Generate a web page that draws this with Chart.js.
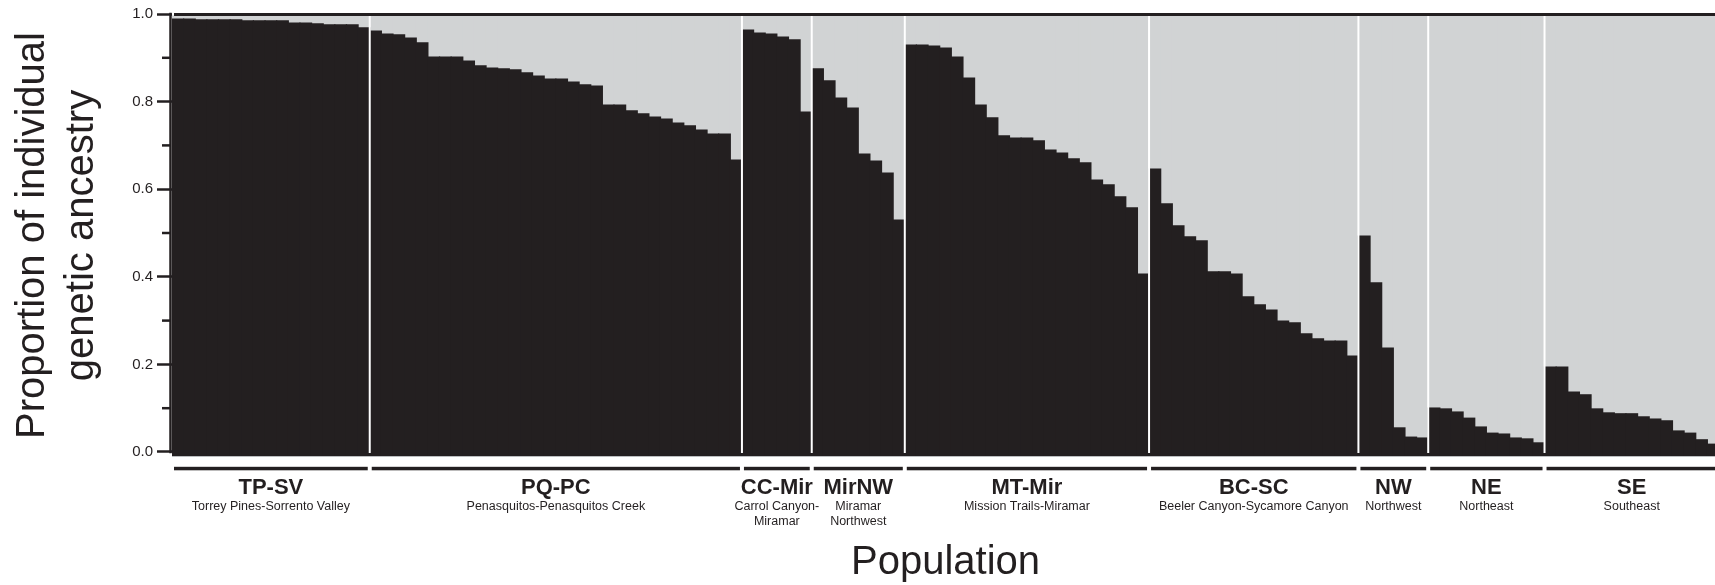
<!DOCTYPE html>
<html><head><meta charset="utf-8">
<script src="https://cdn.jsdelivr.net/npm/chart.js@4.4.1/dist/chart.umd.min.js"></script>
<style>
html,body{margin:0;padding:0;background:#fff;overflow:hidden;width:1715px;height:585px}
#wrap{position:relative;width:1730px;height:585px}
</style></head><body>
<div id="wrap"><canvas id="c"></canvas></div>
<script>
// ---- data ----
const groupCodes = ['TP-SV','PQ-PC','CC-Mir','MirNW','MT-Mir','BC-SC','NW','NE','SE'];
const groupNames = [
  ['Torrey Pines-Sorrento Valley'],
  ['Penasquitos-Penasquitos Creek'],
  ['Carrol Canyon-','Miramar'],
  ['Miramar','Northwest'],
  ['Mission Trails-Miramar'],
  ['Beeler Canyon-Sycamore Canyon'],
  ['Northwest'],
  ['Northeast'],
  ['Southeast']
];
const tpsv  = [0.993,0.993,0.991,0.991,0.991,0.991,0.989,0.989,0.989,0.989,0.984,0.984,0.982,0.980,0.980,0.980,0.973];
const pqpc  = [0.966,0.959,0.957,0.950,0.939,0.907,0.907,0.907,0.898,0.887,0.882,0.880,0.878,0.871,0.864,0.857,0.857,0.850,0.844,0.841,0.798,0.798,0.785,0.778,0.771,0.766,0.757,0.751,0.741,0.732,0.732,0.673];
const ccmir = [0.968,0.961,0.959,0.952,0.946,0.782];
const mirnw = [0.880,0.853,0.814,0.791,0.687,0.671,0.644,0.537];
const mtmir = [0.934,0.934,0.932,0.927,0.907,0.859,0.798,0.769,0.728,0.723,0.723,0.717,0.696,0.689,0.676,0.667,0.628,0.617,0.590,0.565,0.415];
const bcsc  = [0.653,0.574,0.524,0.499,0.490,0.420,0.420,0.415,0.363,0.345,0.333,0.308,0.304,0.279,0.268,0.263,0.263,0.229];
const nw    = [0.501,0.395,0.247,0.066,0.045,0.043];
const ne    = [0.111,0.109,0.102,0.088,0.068,0.054,0.052,0.043,0.041,0.032];
const se    = [0.204,0.204,0.147,0.141,0.109,0.100,0.098,0.098,0.091,0.086,0.082,0.059,0.054,0.039,0.029];
const yTickValues = [0, 0.2, 0.4, 0.6, 0.8, 1.0];
const yMinorTickValues = [0.1, 0.3, 0.5, 0.7, 0.9];

// ---- derived ----
const groupValues = [tpsv, pqpc, ccmir, mirnw, mtmir, bcsc, nw, ne, se];
const ancestry = groupValues.flat();
const remainder = ancestry.map(v => +(1 - v).toFixed(3));
const labels = [];
groupValues.forEach((g, gi) => g.forEach((_, i) => labels.push(groupCodes[gi] + ' ' + (i + 1))));
const groupStarts = [];
{ let s = 0; groupValues.forEach(g => { groupStarts.push(s); s += g.length; }); }

const FONT = "'Liberation Sans', Arial, Helvetica, sans-serif";
const INK = '#231f20';
Chart.defaults.font.family = FONT;
Chart.defaults.color = INK;

const decor = {
  id: 'decor',
  afterDraw(chart) {
    const { ctx, chartArea: a, scales: { x, y, yt } } = chart;
    const n = labels.length;
    const bw = x.getPixelForValue(1) - x.getPixelForValue(0);
    const edge = i => i < n ? x.getPixelForValue(i) - bw / 2 : x.getPixelForValue(n - 1) + bw / 2;
    const yTop1 = y.getPixelForValue(1);
    const t1 = yt.getPixelForValue(1), t0 = yt.getPixelForValue(0);
    ctx.save();
    // group separators
    ctx.strokeStyle = '#ffffff'; ctx.lineWidth = 2;
    groupStarts.forEach((s, gi) => {
      if (gi === 0) return;
      const xb = edge(s);
      ctx.beginPath(); ctx.moveTo(xb, yTop1); ctx.lineTo(xb, t0 + 1); ctx.stroke();
    });
    // top frame line
    ctx.fillStyle = INK;
    ctx.fillRect(a.left + 2, t1 - 1, a.right - a.left, 3);
    // bottom thin line
    ctx.fillStyle = '#bcbec0';
    ctx.fillRect(a.left, a.bottom - 1, a.right - a.left, 1);
    // y spine
    ctx.strokeStyle = INK; ctx.lineWidth = 2.5;
    ctx.beginPath(); ctx.moveTo(a.left - 1.5, t1 - 1.25); ctx.lineTo(a.left - 1.5, t0 + 1.25); ctx.stroke();
    // minor ticks
    yMinorTickValues.forEach(v => {
      const py = yt.getPixelForValue(v);
      ctx.beginPath(); ctx.moveTo(a.left - 10, py); ctx.lineTo(a.left - 1.5, py); ctx.stroke();
    });
    // group underlines and labels
    ctx.fillStyle = INK;
    ctx.textAlign = 'center'; ctx.textBaseline = 'alphabetic';
    groupValues.forEach((g, gi) => {
      const x0 = edge(groupStarts[gi]), x1 = edge(groupStarts[gi] + g.length);
      ctx.fillRect(x0 + 2, a.bottom + 9.8, x1 - x0 - 4, 3.5);
      const cx = (x0 + x1) / 2;
      ctx.font = 'bold 22px ' + FONT;
      ctx.fillText(groupCodes[gi], cx, a.bottom + 37);
      ctx.font = '12.5px ' + FONT;
      groupNames[gi].forEach((line, li) => ctx.fillText(line, cx, a.bottom + 52.5 + li * 15));
    });
    ctx.restore();
  }
};

new Chart(document.getElementById('c'), {
  type: 'bar',
  data: {
    labels,
    datasets: [
      { label: 'Ancestry cluster 1', data: ancestry, backgroundColor: INK, yAxisID: 'y', stack: 's' },
      { label: 'Ancestry cluster 2', data: remainder, backgroundColor: '#d1d3d4', yAxisID: 'y', stack: 's' }
    ]
  },
  options: {
    responsive: true, maintainAspectRatio: false, animation: false,
    layout: { padding: { top: 14, right: 11, bottom: 0, left: 0 } },
    datasets: { bar: { categoryPercentage: 1, barPercentage: 1, borderWidth: 0, inflateAmount: 0.6 } },
    plugins: { legend: { display: false }, tooltip: { enabled: false } },
    scales: {
      x: {
        stacked: true,
        grid: { display: false }, border: { display: false }, ticks: { display: false },
        title: { display: true, text: 'Population', color: INK, font: { size: 40, lineHeight: 1.1 }, padding: 0 },
        afterFit(s) { s.height = 128; }
      },
      y: { stacked: true, display: false, min: 0, max: 1.00454 },
      yt: {
        position: 'left', min: -0.01142, max: 1.0,
        grid: { drawOnChartArea: false, tickLength: 15, tickWidth: 2.5, tickColor: INK },
        border: { display: false },
        ticks: { font: { size: 15 }, color: INK, padding: 4, callback: v => Number(v).toFixed(1) },
        afterBuildTicks(s) { s.ticks = yTickValues.map(v => ({ value: v })); },
        title: { display: true, text: ['Proportion of individual', 'genetic ancestry'], color: INK,
                 font: { size: 40, lineHeight: 1.22 }, padding: { top: 8.5, bottom: 0 } },
        afterFit(s) { s.width = 172; }
      }
    }
  },
  plugins: [decor]
});
</script>
</body></html>
